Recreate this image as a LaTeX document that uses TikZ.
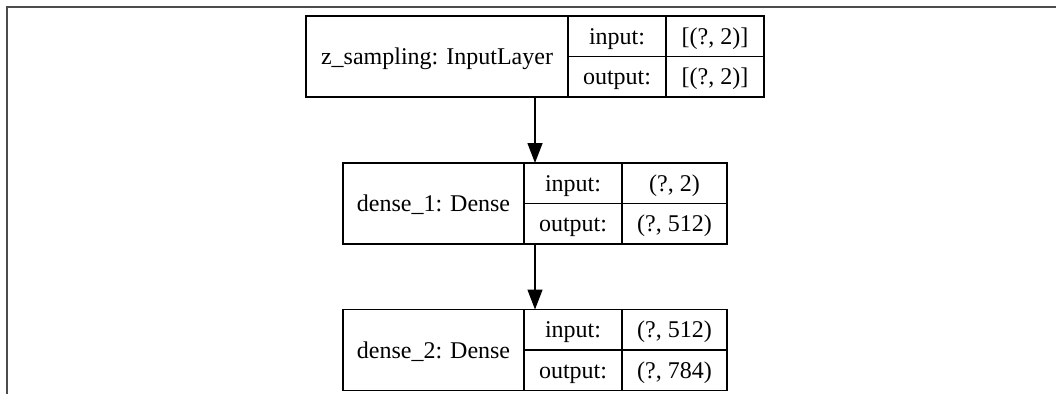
\documentclass[tikz,border=0pt]{standalone}
\usepackage{fontspec}
\setmainfont{Liberation Serif}
\usepackage{tikz}
\usetikzlibrary{
  arrows.meta,  % 箭头样式
  positioning   % 节点相对定位
}

\tikzset{
  record/.style={draw=black, line width=1.4pt, inner sep=0pt, outer sep=0pt},
  cell/.style={draw=black, line width=1.4pt, inner sep=0pt, outer sep=0pt, anchor=north west,
    text height=18pt, text depth=2pt, font=\fontsize{24}{28}\selectfont},
  flow/.style={->, line width=1.4pt, black},
  frame/.style={line width=2pt, black!70}
}

\begin{document}
\begin{tikzpicture}[x=1pt, y=-1pt, >={Triangle[length=20pt, width=15pt]}]
    \useasboundingbox (0,0) rectangle (1056,393);

    % 外框
    \draw[frame] (6.5,400) -- (6.5,7.5) -- (1060,7.5);

    % 第一层：z_sampling
    \node[record, minimum width=458pt, minimum height=81pt] (zs) at (535,56.5) {};
    \node[cell, minimum width=262pt, minimum height=81pt] (zs-name) at (zs.north west) {z\_sampling: InputLayer};
    \node[cell, minimum width=98pt, minimum height=40.5pt] (zs-in) at (zs-name.north east) {input:};
    \node[cell, minimum width=98pt, minimum height=40.5pt] (zs-out) at (zs-in.south west) {output:};
    \node[cell, minimum width=98pt, minimum height=40.5pt] (zs-inv) at (zs-in.north east) {[(?, 2)]};
    \node[cell, minimum width=98pt, minimum height=40.5pt] (zs-outv) at (zs-inv.south west) {[(?, 2)]};

    % 第二层：dense_1
    \node[record, minimum width=384pt, minimum height=81pt] (d1) at (535,203.5) {};
    \node[cell, minimum width=181pt, minimum height=81pt] (d1-name) at (d1.north west) {dense\_1: Dense};
    \node[cell, minimum width=98pt, minimum height=40.5pt] (d1-in) at (d1-name.north east) {input:};
    \node[cell, minimum width=98pt, minimum height=40.5pt] (d1-out) at (d1-in.south west) {output:};
    \node[cell, minimum width=105pt, minimum height=40.5pt] (d1-inv) at (d1-in.north east) {(?, 2)};
    \node[cell, minimum width=105pt, minimum height=40.5pt] (d1-outv) at (d1-inv.south west) {(?, 512)};

    % 第三层：dense_2
    \node[record, minimum width=384pt, minimum height=81pt] (d2) at (535,350) {};
    \node[cell, minimum width=181pt, minimum height=81pt] (d2-name) at (d2.north west) {dense\_2: Dense};
    \node[cell, minimum width=98pt, minimum height=40.5pt] (d2-in) at (d2-name.north east) {input:};
    \node[cell, minimum width=98pt, minimum height=40.5pt] (d2-out) at (d2-in.south west) {output:};
    \node[cell, minimum width=105pt, minimum height=40.5pt] (d2-inv) at (d2-in.north east) {(?, 512)};
    \node[cell, minimum width=105pt, minimum height=40.5pt] (d2-outv) at (d2-inv.south west) {(?, 784)};

    % 连线
    \draw[flow] (zs.south) -- (d1.north);
    \draw[flow] (d1.south) -- (d2.north);
  \end{tikzpicture}
\end{document}
